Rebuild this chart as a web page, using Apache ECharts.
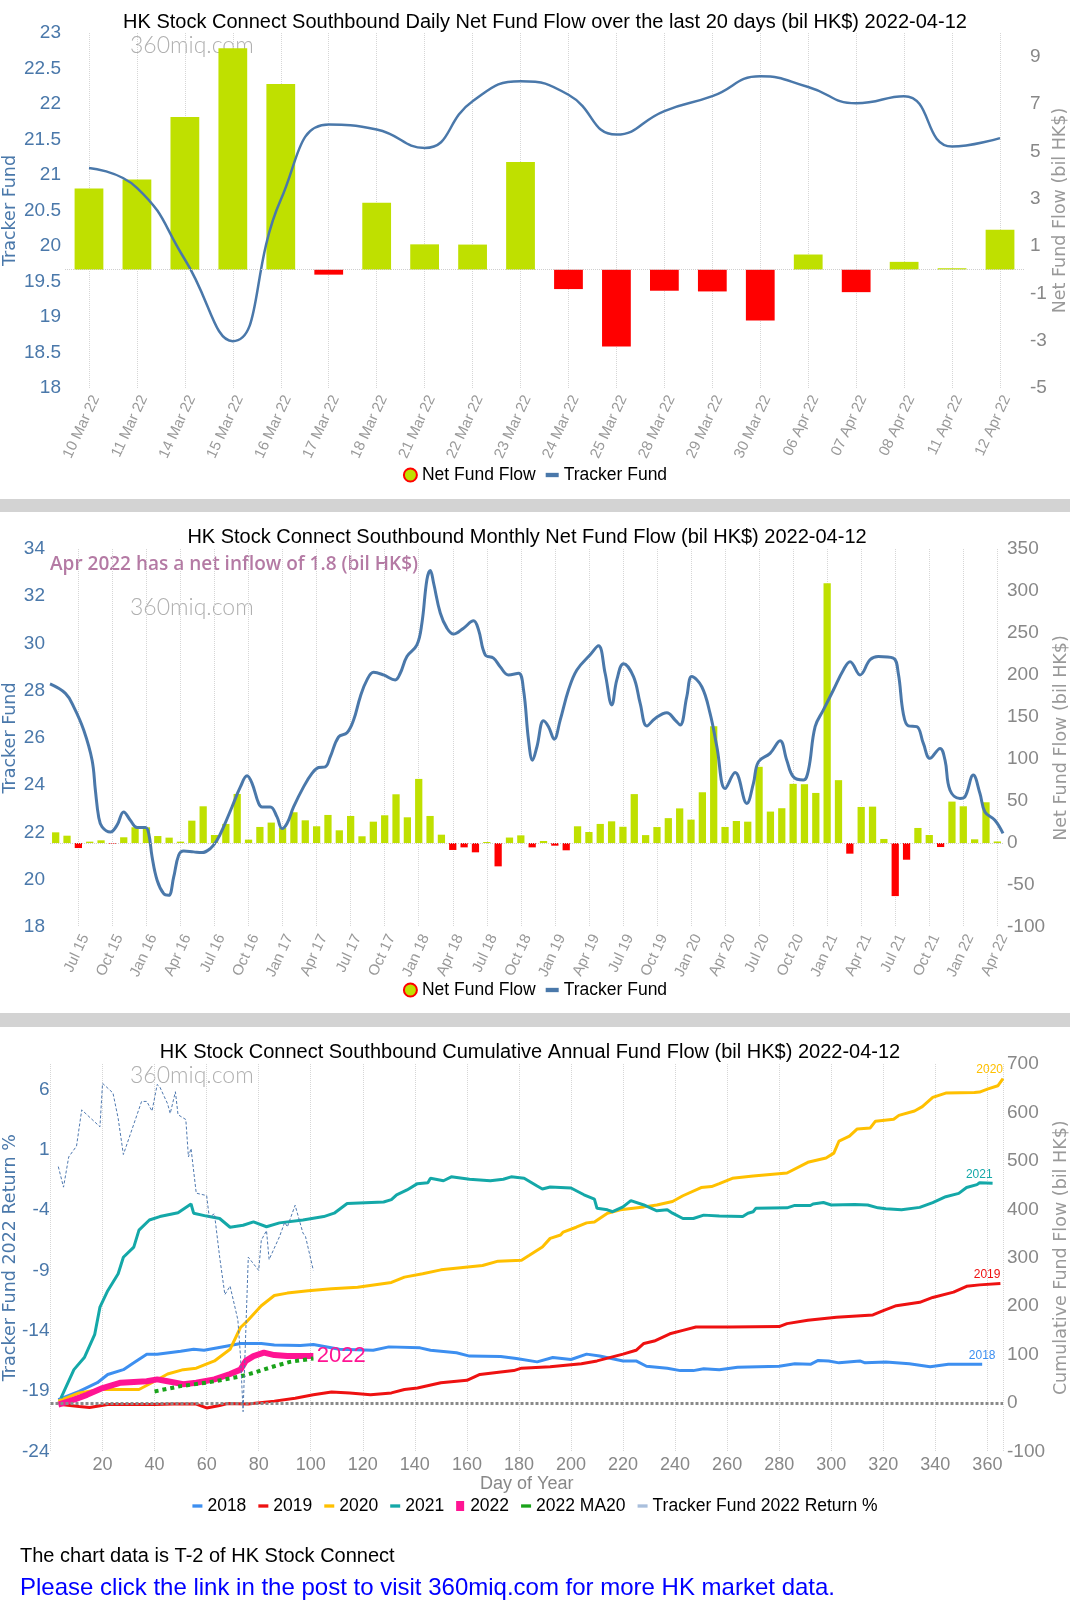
<!DOCTYPE html>
<html><head><meta charset="utf-8">
<script src="https://cdn.jsdelivr.net/npm/echarts@6/dist/echarts.min.js"></script>
<style>html,body{margin:0;padding:0;background:#fff;}#c{width:1070px;height:1603px;}</style>
</head><body><div id="c"></div>
<script>
// ---------- Panel 1: daily ----------
const dailyCats = ['10 Mar 22','11 Mar 22','14 Mar 22','15 Mar 22','16 Mar 22','17 Mar 22','18 Mar 22','21 Mar 22','22 Mar 22','23 Mar 22','24 Mar 22','25 Mar 22','28 Mar 22','29 Mar 22','30 Mar 22','06 Apr 22','07 Apr 22','08 Apr 22','11 Apr 22','12 Apr 22'];
const dailyFlow = [3.43,3.81,6.45,9.36,7.85,-0.21,2.83,1.07,1.06,4.55,-0.82,-3.25,-0.89,-0.92,-2.15,0.64,-0.95,0.33,0.06,1.69];
const dailyTracker = [21.10,20.82,19.81,18.66,20.65,21.71,21.64,21.38,22.04,22.32,22.13,21.57,21.90,22.11,22.39,22.24,22.01,22.11,21.40,21.52];

// ---------- Panel 2: monthly ----------
const monthCats = ['May 15','Jun 15','Jul 15','Aug 15','Sep 15','Oct 15','Nov 15','Dec 15',
'Jan 16','Feb 16','Mar 16','Apr 16','May 16','Jun 16','Jul 16','Aug 16','Sep 16','Oct 16','Nov 16','Dec 16',
'Jan 17','Feb 17','Mar 17','Apr 17','May 17','Jun 17','Jul 17','Aug 17','Sep 17','Oct 17','Nov 17','Dec 17',
'Jan 18','Feb 18','Mar 18','Apr 18','May 18','Jun 18','Jul 18','Aug 18','Sep 18','Oct 18','Nov 18','Dec 18',
'Jan 19','Feb 19','Mar 19','Apr 19','May 19','Jun 19','Jul 19','Aug 19','Sep 19','Oct 19','Nov 19','Dec 19',
'Jan 20','Feb 20','Mar 20','Apr 20','May 20','Jun 20','Jul 20','Aug 20','Sep 20','Oct 20','Nov 20','Dec 20',
'Jan 21','Feb 21','Mar 21','Apr 21','May 21','Jun 21','Jul 21','Aug 21','Sep 21','Oct 21','Nov 21','Dec 21',
'Jan 22','Feb 22','Mar 22','Apr 22'];
const monthFlow = [12.7,8.7,-6,1.6,3.2,-0.8,6.8,18.7,
18.7,8.3,6.4,1.6,26.6,43.7,9.5,22.7,58.4,4,19.1,24.3,
18,36.6,27,19.9,33.4,15.1,32.2,8,25.4,33,58,30.6,
76.3,32.2,9.9,-8.3,-5.2,-11.1,1.2,-27.8,6.5,9.1,-5.2,2.4,
-3.2,-8.7,19.9,13.1,22.7,25.8,19.3,58.2,9.4,19,29.6,41.2,
27.8,60.4,139,19.1,26.2,25.4,90.7,37.4,41.4,70.4,70,59.6,
309.3,74.8,-12.7,42.9,43.3,4.8,-63.2,-19.9,17.9,9.5,-4.8,49.3,
43.7,4.4,48.5,1.8];
// [months since start of May 2015, price]
const monthTracker = [[0,28.29],[1.36,27.89],[2.09,27.32],[2.97,26.34],[3.71,25.06],[4.0,23.79],[4.29,22.66],[4.59,22.24],[5.32,22.02],[5.91,22.31],[6.49,22.87],[7.08,22.52],[7.67,22.21],[8.41,22.21],[8.7,21.96],[9.0,20.96],[9.44,19.98],[10.02,19.41],[10.46,19.34],[10.9,20.11],[11.34,21.04],[11.78,21.22],[12.66,21.18],[13.4,21.15],[14.13,21.32],[14.72,21.67],[15.3,22.24],[16.04,23.08],[16.78,23.93],[17.37,24.4],[17.81,24.08],[18.39,23.23],[18.69,23.08],[19.42,23.08],[20.01,22.66],[20.45,22.17],[20.89,22.38],[21.47,23.08],[22.35,23.93],[23.09,24.5],[23.67,24.75],[24.26,24.78],[24.7,25.2],[25.44,26.05],[26.18,26.22],[26.76,26.76],[27.35,27.75],[27.94,28.46],[28.52,28.78],[29.4,28.67],[30.43,28.46],[30.87,28.74],[31.46,29.45],[32.34,29.94],[32.78,30.86],[33.22,32.7],[33.52,33.09],[33.81,32.56],[34.4,31.29],[34.99,30.65],[35.57,30.4],[36.45,30.65],[37.33,30.96],[37.77,30.58],[38.36,29.52],[39.09,29.38],[39.68,29.02],[40.41,28.67],[41.3,28.74],[41.74,28.03],[42.18,25.91],[42.53,25.06],[42.92,25.63],[43.5,26.73],[43.94,26.48],[44.44,25.95],[44.97,26.76],[45.7,28.03],[46.44,28.88],[47.61,29.52],[48.34,29.9],[48.93,28.74],[49.52,27.4],[49.96,28.46],[50.55,29.14],[51.43,28.6],[52.02,27.47],[52.61,26.51],[53.34,26.83],[54.37,27.07],[55.1,26.76],[55.54,26.55],[56.13,27.75],[56.57,28.6],[57.45,28.17],[58.18,27.04],[58.78,25.63],[59.51,23.86],[60.39,24.54],[61.42,23.23],[62.0,24.08],[62.44,24.99],[63.47,25.35],[64.35,25.88],[64.94,25.06],[65.52,24.36],[66.41,24.22],[66.85,24.64],[67.44,26.48],[68.17,27.19],[69.05,28.03],[69.93,28.88],[70.52,29.23],[71.4,28.67],[72.28,29.31],[73.01,29.45],[74.33,29.38],[74.77,28.74],[75.21,27.04],[75.66,26.51],[76.4,26.48],[76.98,25.77],[77.56,25.14],[78.45,25.56],[78.89,25.06],[79.33,23.79],[80.21,23.44],[80.65,23.51],[81.38,24.43],[81.97,23.65],[82.41,22.87],[83.29,22.52],[84,21.96]];

// ---------- Panel 3: cumulative by day of year ----------
const cum2018 = [[3,7],[11,24],[18,42],[22,59],[28,69],[32,83],[37,101],[41,101],[50,107],[55,111],[59,109],[68,118],[73,123],[81,123],[86,120],[96,119],[101,121],[111,111],[124,109],[130,116],[142,114],[146,109],[156,104],[161,97],[173,96],[179,92],[187,85],[193,94],[200,90],[206,101],[211,97],[220,87],[225,87],[229,76],[237,72],[242,67],[247,67],[251,71],[257,69],[264,74],[280,76],[286,81],[292,80],[295,88],[299,87],[303,83],[311,87],[313,83],[321,85],[330,81],[338,75],[345,80],[358,80]];
const cum2019 = [[4,-3],[11,-7],[15,-9],[22,-3],[40,-3],[47,-2],[56,-2],[60,-10],[65,-5],[68,-1],[76,-2],[86,4],[94,10],[101,17],[108,23],[115,21],[123,17],[131,21],[136,28],[141,31],[150,42],[160,47],[165,59],[173,64],[178,67],[181,72],[192,75],[204,81],[210,87],[220,101],[225,109],[228,123],[232,128],[238,143],[243,150],[248,157],[261,157],[280,158],[283,164],[291,171],[302,177],[316,182],[320,191],[325,201],[334,208],[339,218],[347,229],[352,241],[357,244],[365,247]];
const cum2020 = [[3,4],[11,21],[19,28],[34,28],[40,45],[45,60],[51,69],[56,72],[63,87],[69,111],[73,156],[75,166],[81,201],[86,222],[91,227],[99,232],[108,236],[118,239],[131,249],[136,260],[143,267],[150,275],[166,284],[172,293],[181,295],[184,305],[189,322],[192,340],[196,347],[197,353],[202,363],[206,372],[209,374],[214,392],[219,399],[228,405],[233,409],[239,416],[243,428],[250,445],[254,447],[257,453],[262,464],[270,469],[283,475],[291,497],[298,506],[301,516],[303,541],[307,551],[310,566],[315,568],[317,582],[324,586],[326,594],[332,603],[335,612],[339,631],[344,640],[355,641],[357,642],[360,648],[364,655],[366,670]];
const cum2021 = [[4,10],[9,69],[13,94],[17,142],[19,198],[22,232],[26,267],[28,301],[32,322],[34,357],[38,378],[42,385],[49,393],[54,411],[55,392],[60,386],[65,381],[69,363],[74,367],[78,374],[83,364],[88,372],[97,378],[105,385],[109,392],[114,412],[128,415],[131,420],[133,430],[137,440],[141,453],[145,455],[146,464],[151,459],[154,467],[161,462],[169,459],[174,462],[177,467],[182,464],[187,448],[189,442],[192,446],[200,444],[205,430],[209,421],[210,402],[214,399],[216,395],[220,405],[223,418],[228,409],[233,397],[237,399],[239,392],[243,381],[247,381],[251,388],[257,386],[266,385],[268,392],[270,395],[271,402],[283,403],[286,408],[292,408],[293,411],[297,414],[300,409],[309,410],[314,409],[318,403],[321,401],[327,399],[334,404],[339,414],[344,426],[349,433],[352,445],[356,451],[357,455],[362,454]];
const cum2022 = [[3,-3],[9,7],[14,17],[20,31],[27,42],[37,45],[41,49],[45,45],[51,39],[56,42],[63,49],[69,60],[73,69],[75,87],[78,97],[82,104],[86,99],[91,97],[101,97]];
const ma2022 = [[40,24],[50,35],[60,42],[73,55],[79,64],[86,76],[92,85],[101,92]];
const trackerReturn = [[3,-0.4],[5,-2.1],[7,0.4],[10,1.3],[12,4.3],[19,2.9],[20,6.5],[24,5.7],[26,3.6],[28,0.6],[35,5],[37,5],[39,4.2],[41,6.4],[42,6.2],[45,4.8],[46,4],[48,5.8],[49,3.9],[52,3.5],[53,0.4],[54,1.1],[56,-2.6],[60,-2.8],[61,-4.6],[63,-4.3],[65,-7.9],[67,-11],[69,-10.3],[72,-13.1],[73,-16.1],[74,-20.7],[76,-7.9],[80,-9],[81,-6.5],[83,-5.7],[84,-8.1],[88,-6.2],[90,-5],[91,-5.4],[94,-3.6],[97,-5.9],[98,-6.2],[101,-9]];

// ---------- styling ----------
const FONT = '"Liberation Sans", Arial, sans-serif';
const NAMEFONT = '"DejaVu Sans", Verdana, sans-serif';
const BLUE = '#4a78aa', GREEN = '#bfe000', RED = '#ff0000', GREYTXT = '#888';
const C18 = '#3d8ff0', C19 = '#ee1111', C20 = '#ffc000', C21 = '#14a8a8', C22 = '#ff1493', CMA = '#1aa31a';
const LINEICON = 'path://M0,0H12V4H0Z';
const SQICON = 'path://M0,0H8V10H0Z';

function barData(vals) { return vals.map(v => ({ value: v, itemStyle: { color: v >= 0 ? GREEN : RED } })); }
function lastOf(a) { return a[a.length - 1]; }
const dotted = { show: true, lineStyle: { type: 'dotted', color: '#d6d6d6', width: 1 } };
const zeroLine = { silent: true, symbol: 'none', label: { show: false }, lineStyle: { type: 'dotted', color: '#cfcfcf', width: 1 }, data: [{ yAxis: 0 }] };
function yName(name, color) { return { name, nameLocation: 'middle', nameMoveOverlap: false, nameTextStyle: { fontFamily: NAMEFONT, fontSize: 17.5, color } }; }
function valAxis(o) {
  return Object.assign({ type: 'value', axisLine: { show: false }, axisTick: { show: false }, splitLine: { show: false } }, o);
}
function endMark(text, color, data, align, size, pos) {
  return {
    silent: true, symbol: 'circle', symbolSize: 1, itemStyle: { color: 'rgba(0,0,0,0)' },
    label: { show: true, position: pos || 'top', align: align, distance: pos === 'right' ? 3 : 2, formatter: text, color: color, fontSize: size, fontFamily: FONT },
    data: [{ coord: lastOf(data) }]
  };
}

const titleStyle = { fontSize: 20, fontWeight: 'normal', color: '#000', fontFamily: FONT };
const legendText = { fontSize: 17.5, color: '#000', fontFamily: FONT };
const flowLegendItem = { name: 'Net Fund Flow', icon: 'circle', itemStyle: { color: GREEN, borderColor: RED, borderWidth: 2 } };
const option = {
  animation: false,
  backgroundColor: '#ffffff',
  textStyle: { fontFamily: FONT },
  title: [
    { text: 'HK Stock Connect Southbound Daily Net Fund Flow over the last 20 days (bil HK$) 2022-04-12', left: 545, top: 12, textAlign: 'center', padding: 0, textStyle: titleStyle },
    { text: 'HK Stock Connect Southbound Monthly Net Fund Flow (bil HK$) 2022-04-12', left: 527, top: 527, textAlign: 'center', padding: 0, textStyle: titleStyle },
    { text: 'HK Stock Connect Southbound Cumulative Annual Fund Flow (bil HK$) 2022-04-12', left: 530, top: 1042, textAlign: 'center', padding: 0, textStyle: titleStyle }
  ],
  legend: [
    { top: 466, left: 'center', itemWidth: 13, itemHeight: 13, itemGap: 10, padding: 0, textStyle: legendText,
      data: [flowLegendItem, { name: 'Tracker Fund', icon: LINEICON }] },
    { top: 981, left: 'center', itemWidth: 13, itemHeight: 13, itemGap: 10, padding: 0, textStyle: legendText,
      data: [flowLegendItem, { name: 'Tracker Fund', icon: LINEICON }] },
    { top: 1497, left: 'center', itemWidth: 10, itemHeight: 10, itemGap: 12, padding: 0, textStyle: legendText,
      data: [{ name: '2018', icon: LINEICON }, { name: '2019', icon: LINEICON }, { name: '2020', icon: LINEICON },
        { name: '2021', icon: LINEICON }, { name: '2022', icon: SQICON }, { name: '2022 MA20', icon: LINEICON },
        { name: 'Tracker Fund 2022 Return %', icon: LINEICON, itemStyle: { color: '#a9bfdc', borderColor: '#a9bfdc' } }] }
  ],
  grid: [
    { left: 65, right: 46, top: 33, height: 355, outerBoundsMode: 'none' },
    { left: 50, right: 67, top: 549, height: 378, outerBoundsMode: 'none' },
    { left: 50.5, right: 67, top: 1064, height: 387.5, outerBoundsMode: 'none' }
  ],
  xAxis: [
    { gridIndex: 0, type: 'category', data: dailyCats, axisLine: { show: false }, axisTick: { show: false },
      axisLabel: { rotate: 65, fontSize: 15, color: '#999', margin: 5, interval: 0, verticalAlign: 'top' },
      splitLine: Object.assign({}, dotted, { interval: 0, alignWithLabel: true }) },
    { gridIndex: 1, type: 'category', data: monthCats, axisLine: { show: false }, axisTick: { show: false },
      axisLabel: { rotate: 65, fontSize: 15, color: '#999', margin: 5, interval: (i) => i % 3 === 2, verticalAlign: 'top' },
      splitLine: Object.assign({}, dotted, { interval: (i) => i % 3 === 2, alignWithLabel: true }) },
    { gridIndex: 1, type: 'value', min: 0, max: 84, show: false },
    { gridIndex: 2, type: 'value', min: 0, max: 366, interval: 20, axisLine: { show: false }, axisTick: { show: false },
      axisLabel: { fontSize: 18, color: GREYTXT, margin: 5, showMinLabel: false, showMaxLabel: false },
      splitLine: dotted, name: 'Day of Year', nameLocation: 'middle', nameGap: 21,
      nameTextStyle: { fontSize: 18, color: GREYTXT, fontFamily: FONT } }
  ],
  yAxis: [
    valAxis(Object.assign({ gridIndex: 0, position: 'left', min: 18, max: 23, interval: 0.5, nameGap: 46,
      axisLabel: { fontSize: 19, color: BLUE, margin: 4 } }, yName('Tracker Fund', BLUE))),
    valAxis(Object.assign({ gridIndex: 0, position: 'right', min: -5, max: 10, interval: 2, nameGap: 27,
      axisLabel: { fontSize: 19, color: GREYTXT, margin: 6, showMaxLabel: false } }, yName('Net Fund Flow (bil HK$)', '#999'))),
    valAxis(Object.assign({ gridIndex: 1, position: 'left', min: 18, max: 34, interval: 2, nameGap: 31,
      axisLabel: { fontSize: 19, color: BLUE, margin: 5 } }, yName('Tracker Fund', BLUE))),
    valAxis(Object.assign({ gridIndex: 1, position: 'right', min: -100, max: 350, interval: 50, nameGap: 49,
      axisLabel: { fontSize: 19, color: GREYTXT, margin: 4 } }, yName('Net Fund Flow (bil HK$)', '#999'))),
    valAxis(Object.assign({ gridIndex: 2, position: 'left', min: -24, max: 8.1, interval: 5, nameGap: 31,
      axisLabel: { fontSize: 19, color: BLUE, margin: 1, showMaxLabel: false } }, yName('Tracker Fund 2022 Return %', BLUE))),
    valAxis(Object.assign({ gridIndex: 2, position: 'right', min: -100, max: 700, interval: 100, nameGap: 49,
      axisLabel: { fontSize: 19, color: GREYTXT, margin: 4 } }, yName('Cumulative Fund Flow (bil HK$)', '#999')))
  ],
  series: [
    { name: 'Net Fund Flow', type: 'bar', xAxisIndex: 0, yAxisIndex: 1, data: barData(dailyFlow), barWidth: '60%',
      itemStyle: { color: GREEN }, markLine: zeroLine, z: 2 },
    { name: 'Tracker Fund', type: 'line', xAxisIndex: 0, yAxisIndex: 0, data: dailyTracker, smooth: true, symbol: 'none',
      lineStyle: { color: BLUE, width: 2.5 }, itemStyle: { color: BLUE }, z: 3 },
    { name: 'Net Fund Flow', type: 'bar', xAxisIndex: 1, yAxisIndex: 3, data: barData(monthFlow), barWidth: '64%',
      itemStyle: { color: GREEN }, markLine: zeroLine, z: 2 },
    { name: 'Tracker Fund', type: 'line', xAxisIndex: 2, yAxisIndex: 2, data: monthTracker, smooth: 0.4, symbol: 'none',
      lineStyle: { color: BLUE, width: 3 }, itemStyle: { color: BLUE }, z: 3 },

    { name: '2018', type: 'line', xAxisIndex: 3, yAxisIndex: 5, data: cum2018, symbol: 'none', lineStyle: { color: C18, width: 3 }, itemStyle: { color: C18 }, z: 3,
      markLine: { silent: true, symbol: 'none', label: { show: false }, lineStyle: { type: [3, 2], color: '#8a8a8a', width: 3 }, data: [{ yAxis: 0 }] },
      markPoint: endMark('2018', C18, cum2018, 'center', 12) },
    { name: '2019', type: 'line', xAxisIndex: 3, yAxisIndex: 5, data: cum2019, symbol: 'none', lineStyle: { color: C19, width: 3 }, itemStyle: { color: C19 }, z: 3,
      markPoint: endMark('2019', C19, cum2019, 'right', 12) },
    { name: '2020', type: 'line', xAxisIndex: 3, yAxisIndex: 5, data: cum2020, symbol: 'none', lineStyle: { color: C20, width: 3 }, itemStyle: { color: C20 }, z: 3,
      markPoint: endMark('2020', C20, cum2020, 'right', 12) },
    { name: '2021', type: 'line', xAxisIndex: 3, yAxisIndex: 5, data: cum2021, symbol: 'none', lineStyle: { color: C21, width: 3 }, itemStyle: { color: C21 }, z: 3,
      markPoint: endMark('2021', C21, cum2021, 'right', 12) },
    { name: '2022', type: 'line', xAxisIndex: 3, yAxisIndex: 5, data: cum2022, symbol: 'none', lineStyle: { color: C22, width: 6 }, itemStyle: { color: C22 }, z: 4,
      markPoint: endMark('2022', C22, cum2022, 'left', 22, 'right') },
    { name: '2022 MA20', type: 'line', xAxisIndex: 3, yAxisIndex: 5, data: ma2022, symbol: 'none', lineStyle: { color: CMA, width: 4, type: 'dotted' }, itemStyle: { color: CMA }, z: 4 },
    { name: 'Tracker Fund 2022 Return %', type: 'line', xAxisIndex: 3, yAxisIndex: 4, data: trackerReturn, symbol: 'none',
      lineStyle: { color: '#4f79b0', width: 1, type: [3, 2] }, itemStyle: { color: '#a9bfdc' }, z: 5 }
  ],
  graphic: [
    { type: 'rect', shape: { x: 0, y: 499, width: 1070, height: 13 }, style: { fill: '#d3d3d3' }, silent: true },
    { type: 'rect', shape: { x: 0, y: 1013, width: 1070, height: 14 }, style: { fill: '#d3d3d3' }, silent: true },
    { type: 'text', x: 130, y: 46, style: { text: '360miq.com', font: '300 23px Lato, "Open Sans", sans-serif', fill: '#b0b0b0', verticalAlign: 'middle' }, silent: true },
    { type: 'text', x: 130, y: 608, style: { text: '360miq.com', font: '300 23px Lato, "Open Sans", sans-serif', fill: '#b0b0b0', verticalAlign: 'middle' }, silent: true },
    { type: 'text', x: 130, y: 1076, style: { text: '360miq.com', font: '300 23px Lato, "Open Sans", sans-serif', fill: '#b0b0b0', verticalAlign: 'middle' }, silent: true },
    { type: 'text', x: 50, y: 565, style: { text: 'Apr 2022 has a net inflow of 1.8 (bil HK$)', font: '600 19px "Open Sans", sans-serif', fill: '#b47aa4', verticalAlign: 'middle' }, silent: true },
    { type: 'text', x: 20, y: 1556, style: { text: 'The chart data is T-2 of HK Stock Connect', font: '20px "Liberation Sans", Arial, sans-serif', fill: '#000', verticalAlign: 'middle' }, silent: true },
    { type: 'text', x: 20, y: 1588, style: { text: 'Please click the link in the post to visit 360miq.com for more HK market data.', font: '24px "Liberation Sans", Arial, sans-serif', fill: '#0000ff', verticalAlign: 'middle' }, silent: true }
  ]
};
const chart = echarts.init(document.getElementById('c'), null, { renderer: 'canvas', width: 1070, height: 1603 });
chart.setOption(option);
</script>
</body></html>
